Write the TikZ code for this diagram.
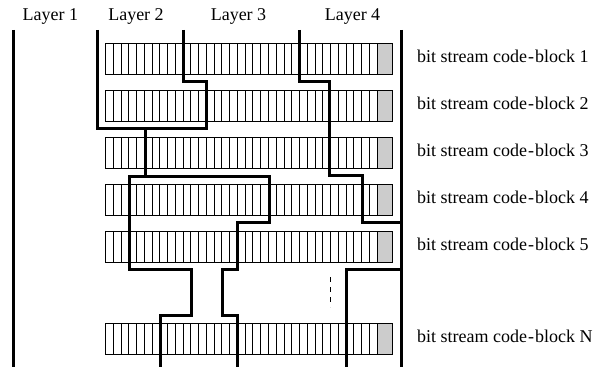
\documentclass[tikz,border=0pt]{standalone}
\usepackage{fontspec}
\setmainfont{Liberation Serif}
\begin{document}
\begin{tikzpicture}[x=1pt,y=-1pt,
  cellbox/.style={draw=black,line width=1pt,fill=white},
  lastcell/.style={draw=black,line width=1pt,fill=black!20},
  layerline/.style={draw=black,line width=3pt,line join=miter,line cap=butt},
  dotline/.style={draw=black,line width=1pt,dash pattern=on 5pt off 5pt},
  lbl/.style={font=\fontsize{18}{20}\selectfont,inner sep=0pt,anchor=base},
  rowlbl/.style={font=\fontsize{18}{20}\selectfont,inner sep=0pt,anchor=base west}]
\useasboundingbox (0,0) rectangle (595,369);
% layer labels
\node[lbl] (L1) at (50.3,21) {Layer 1};
\node[lbl] (L2) at (136,21) {Layer 2};
\node[lbl] (L3) at (238.5,21) {Layer 3};
\node[lbl] (L4) at (352.5,21) {Layer 4};
% code-block bars
\foreach \t/\n/\lab in {44/r1/1,91/r2/2,137/r3/3,184/r4/4,231/r5/5,323/rN/N}{
  \foreach \i in {0,...,34}{
    \draw[cellbox] ({105.5+\i*7.763},\t) rectangle ({105.5+(\i+1)*7.763},\t+31);
  }
  \draw[lastcell] (377.2,\t) rectangle (392.3,\t+31);
  \node[rowlbl] (\n) at (417,\t+19) {bit stream code\kern1pt-\kern1pt block \lab};
}
% dashed continuation
\coordinate (d1) at (330,277);
\coordinate (d2) at (330,307);
\draw[dotline] (d1) -- (d2);
% layer boundary lines
\coordinate (aTop) at (13,30);
\coordinate (aBot) at (13,367);
\coordinate (eTop) at (401,30);
\coordinate (eBot) at (401,367);
\draw[layerline] (aTop) -- (aBot);
\draw[layerline] (eTop) -- (eBot);
% Layer 1 | Layer 2
\draw[layerline] (97,30) -- (97,128.5) -- (145,128.5) -- (145,176) -- (129,176)
  -- (129,269) -- (191.5,269) -- (191.5,315) -- (160,315) -- (160,367);
% Layer 2 | Layer 3
\draw[layerline] (183,30) -- (183,82) -- (206,82) -- (206,128.5) -- (145,128.5);
\draw[layerline] (145,176) -- (269,176) -- (269,222) -- (237.5,222) -- (237.5,269)
  -- (222,269) -- (222,315) -- (237.5,315) -- (237.5,367);
% Layer 3 | Layer 4
\draw[layerline] (299,30) -- (299,82) -- (329,82) -- (329,175) -- (362.5,175)
  -- (362.5,222) -- (401,222);
\draw[layerline] (401,269) -- (346,269) -- (346,367);
\end{tikzpicture}
\end{document}
